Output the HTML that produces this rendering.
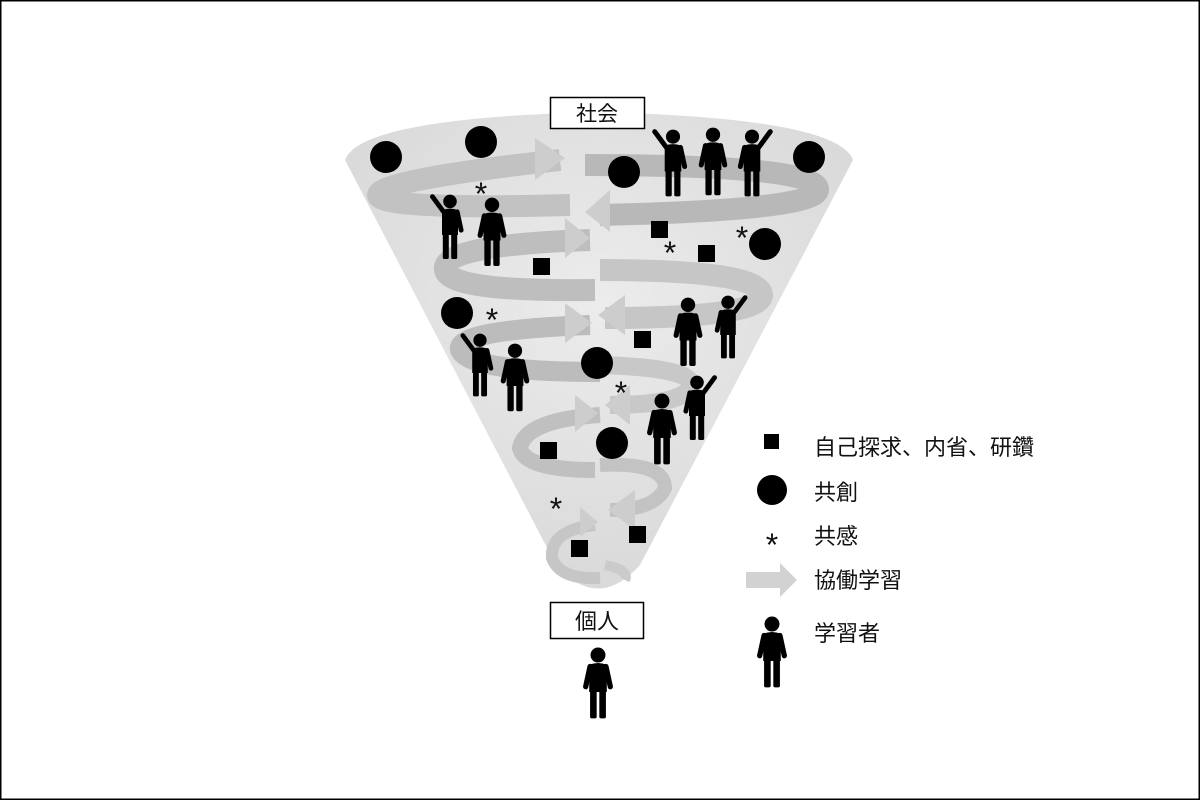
<!DOCTYPE html>
<html><head><meta charset="utf-8"><style>
html,body{margin:0;padding:0;background:#fff}
svg{display:block}
text{font-family:"Liberation Sans","Noto Sans CJK JP",sans-serif;fill:#111}
</style></head><body>
<svg width="1200" height="800" viewBox="0 0 1200 800" xmlns="http://www.w3.org/2000/svg">
<defs>
<radialGradient id="cg" cx="0.5" cy="0.4" r="0.7">
<stop offset="0" stop-color="#ececec"/><stop offset="1" stop-color="#d6d6d6"/></radialGradient>
<g id="p">
<circle cx="0" cy="8" r="8.5"/>
<path d="M-10 19 Q0 15 10 19 L10 50 L-10 50 Z"/>
<rect x="-9" y="46" width="7.5" height="34" rx="2"/>
<rect x="1.5" y="46" width="7.5" height="34" rx="2"/>
<g stroke="#000" stroke-width="6" stroke-linecap="round" fill="none">
<path d="M-9 21 L-14 44"/><path d="M9 21 L14 44"/></g>
</g>
<g id="pl">
<circle cx="0" cy="8" r="8.5"/>
<path d="M-10 19 Q0 15 10 19 L10 50 L-10 50 Z"/>
<rect x="-9" y="46" width="7.5" height="34" rx="2"/>
<rect x="1.5" y="46" width="7.5" height="34" rx="2"/>
<g stroke="#000" stroke-width="6" stroke-linecap="round" fill="none">
<path d="M-8 21 L-22 2"/><path d="M9 21 L14 44"/></g>
</g>
<g id="pr">
<circle cx="0" cy="8" r="8.5"/>
<path d="M-10 19 Q0 15 10 19 L10 50 L-10 50 Z"/>
<rect x="-9" y="46" width="7.5" height="34" rx="2"/>
<rect x="1.5" y="46" width="7.5" height="34" rx="2"/>
<g stroke="#000" stroke-width="6" stroke-linecap="round" fill="none">
<path d="M-9 21 L-14 44"/><path d="M8 21 L22 2"/></g>
</g>
</defs>
<rect x="0.5" y="0.5" width="1199" height="799" fill="#fff" stroke="#000" stroke-width="2"/>
<path d="M345 160 Q360 118 598 112 Q838 118 853 160 L640 565 Q598 612 556 565 Z" fill="url(#cg)"/>
<g fill="none" stroke-linecap="butt">
<path d="M570 205 Q380 210 378 195 Q380 180 560 160" stroke="#c2c2c2" stroke-width="22"/>
<path d="M585 165 Q820 165 818 190 Q815 210 600 215" stroke="#b8b8b8" stroke-width="22"/>
<path d="M590 240 Q440 245 445 270 Q450 292 595 290" stroke="#bebebe" stroke-width="22"/>
<path d="M600 270 Q760 270 762 295 Q760 318 605 318" stroke="#c6c6c6" stroke-width="22"/>
<path d="M590 325 Q455 330 460 350 Q470 372 600 372" stroke="#bcbcbc" stroke-width="20"/>
<path d="M600 365 Q700 368 690 388 Q680 405 610 405" stroke="#c8c8c8" stroke-width="18"/>
<path d="M600 415 Q525 420 520 448 Q525 470 595 470" stroke="#c0c0c0" stroke-width="16"/>
<path d="M600 465 Q665 462 665 488 Q655 510 610 510" stroke="#c3c3c3" stroke-width="14"/>
<path d="M595 525 Q550 530 552 558 Q560 580 600 578" stroke="#c6c6c6" stroke-width="12"/>
<path d="M605 565 Q630 570 625 580" stroke="#cbcbcb" stroke-width="10"/>
</g>
<g fill="#cdcdcd">
<path d="M535 150 L535 138 L565 158 L535 180 L535 170 Z"/>
<path d="M610 200 L610 190 L585 212 L610 232 L610 222 Z"/>
<path d="M565 228 L565 218 L590 238 L565 258 L565 248 Z"/>
<path d="M565 313 L565 303 L592 323 L565 343 L565 333 Z"/>
<path d="M625 305 L625 295 L598 315 L625 335 L625 325 Z"/>
<path d="M630 395 L630 385 L605 405 L630 425 L630 415 Z"/>
<path d="M575 405 L575 395 L598 413 L575 432 L575 422 Z"/>
<path d="M635 500 L635 490 L608 510 L635 530 L635 520 Z"/>
<path d="M580 515 L580 507 L598 522 L580 537 L580 529 Z"/>
</g>
<g fill="#000">
<circle cx="386" cy="157" r="16"/><circle cx="481" cy="142" r="16"/><circle cx="624" cy="172" r="16"/>
<circle cx="809" cy="157" r="16"/><circle cx="765" cy="244" r="16"/><circle cx="457" cy="313" r="16"/>
<circle cx="597" cy="363" r="16"/><circle cx="612" cy="443" r="16"/>
<rect x="651" y="221" width="17" height="17"/><rect x="698" y="245" width="17" height="17"/>
<rect x="533" y="258" width="17" height="17"/><rect x="634" y="331" width="17" height="17"/>
<rect x="540" y="442" width="17" height="17"/><rect x="571" y="540" width="17" height="17"/>
<rect x="629" y="526" width="17" height="17"/>
<circle cx="772" cy="490" r="15"/><rect x="764" y="434" width="15" height="15"/>
</g>
<g font-size="32" text-anchor="middle">
<text x="481" y="205">*</text><text x="670" y="264">*</text><text x="742" y="249">*</text>
<text x="492" y="331">*</text><text x="621" y="404">*</text><text x="556" y="520">*</text>
<text x="772" y="556">*</text>
</g>
<use href="#pl" transform="translate(673,130) scale(0.83)"/>
<use href="#p" transform="translate(713,128) scale(0.84)"/>
<use href="#pr" transform="translate(752,130) scale(0.83)"/>
<use href="#pl" transform="translate(450,195) scale(0.8)"/>
<use href="#p" transform="translate(492,198) scale(0.85)"/>
<use href="#pl" transform="translate(480,334) scale(0.78)"/>
<use href="#p" transform="translate(515,344) scale(0.84)"/>
<use href="#p" transform="translate(688,298) scale(0.85)"/>
<use href="#pr" transform="translate(728,296) scale(0.78)"/>
<use href="#p" transform="translate(662,394) scale(0.88)"/>
<use href="#pr" transform="translate(697,376) scale(0.8)"/>
<use href="#p" transform="translate(598,648) scale(0.88)"/>
<use href="#p" transform="translate(772,617) scale(0.88)"/>
<rect x="550.5" y="97.5" width="94" height="31" fill="#fff" stroke="#000" stroke-width="1.5"/>
<text x="597" y="121" font-size="21" text-anchor="middle">社会</text>
<rect x="550.5" y="602.5" width="93" height="36" fill="#fff" stroke="#000" stroke-width="1.5"/>
<text x="597" y="629" font-size="22" text-anchor="middle">個人</text>
<path d="M746 572 L780 572 L780 563 L797 580 L780 597 L780 588 L746 588 Z" fill="#d2d2d2"/>
<g font-size="22">
<text x="814" y="455">自己探求、内省、研鑽</text>
<text x="814" y="500">共創</text>
<text x="814" y="544">共感</text>
<text x="814" y="588">協働学習</text>
<text x="814" y="641">学習者</text>
</g>
</svg>
</body></html>
